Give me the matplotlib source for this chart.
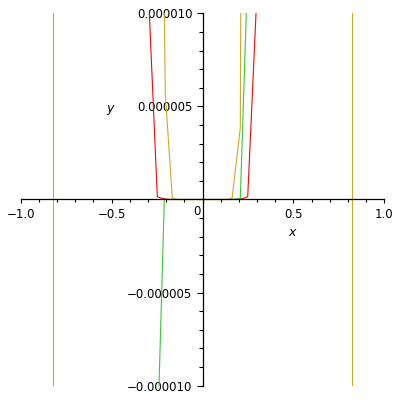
import numpy as np
import matplotlib
matplotlib.use("Agg")
import matplotlib.pyplot as plt
from matplotlib.ticker import MultipleLocator

# curves (x, y)
red_x = [-0.2926, -0.2486, -0.2211, -0.18, 0.19, 0.2244, 0.2486, 0.2943]
red_y = [1.0e-5, 0.15e-6, 0.05e-6, 0.0, 0.0, 0.05e-6, 0.15e-6, 1.0e-5]

green_x = [-0.2393, -0.2101, 0.15, 0.1859, 0.2079, 0.2409]
green_y = [-1.0e-5, 0.0, 0.0, 0.03e-6, 0.05e-6, 1.0e-5]

orange_x = [-0.2101, -0.2046, -0.1661, -0.13, 0.13, 0.1623, 0.2079, 0.2101]
orange_y = [1.0e-5, 5.67e-6, 0.05e-6, 0.0, 0.0, 0.05e-6, 3.84e-6, 1.0e-5]

vline_x = [-0.82, 0.82]

xtick_vals = [-1.0, -0.5, 0.5, 1.0]
xtick_labels = ["\u22121.0", "\u22120.5", "0.5", "1.0"]
ytick_vals = [-1.0e-5, -5.0e-6, 5.0e-6, 1.0e-5]
ytick_labels = ["\u22120.000010", "\u22120.000005", "0.000005", "0.000010"]

gold = "#DAA520"

fig = plt.figure(figsize=(4, 4), dpi=100)
ax = fig.add_axes([0.0518, 0.0358, 0.909, 0.931])

for xv in vline_x:
    ax.plot([xv, xv], [-1.0e-5, 1.0e-5], color=gold, lw=0.8, zorder=1)

ax.plot(red_x, red_y, color="#FF0000", lw=0.8, zorder=2)
ax.plot(orange_x, orange_y, color=gold, lw=0.8, zorder=2)
ax.plot(green_x, green_y, color="#33CC33", lw=0.8, zorder=2)

ax.set_xlim(-1, 1)
ax.set_ylim(-1.0e-5, 1.0e-5)

ax.spines["left"].set_position(("data", 0))
ax.spines["bottom"].set_position(("data", 0))
ax.spines["top"].set_visible(False)
ax.spines["right"].set_visible(False)
for s in ("left", "bottom"):
    ax.spines[s].set_linewidth(0.9)
    ax.spines[s].set_zorder(3)

ax.set_xticks(xtick_vals)
ax.set_xticklabels(xtick_labels)
ax.set_yticks(ytick_vals)
ax.set_yticklabels(ytick_labels)
ax.xaxis.set_minor_locator(MultipleLocator(0.1))
ax.yaxis.set_minor_locator(MultipleLocator(1.0e-6))

ax.tick_params(axis="x", which="major", direction="out", length=3.2, width=0.8,
               pad=3.0, labelsize=8.5)
ax.tick_params(axis="x", which="minor", direction="out", length=2.4, width=0.8)
ax.tick_params(axis="y", which="major", direction="out", length=4.3, width=0.8,
               pad=3.0, labelsize=8.5)
ax.tick_params(axis="y", which="minor", direction="out", length=2.7, width=0.8)

ax.text(-0.030, -0.67e-6, "0", fontsize=8.5, ha="center", va="center")
ax.text(0.492, -1.75e-6, "x", fontsize=9, style="italic", ha="center", va="center")
ax.text(-0.509, 4.91e-6, "y", fontsize=9, style="italic", ha="center", va="center")

fig.savefig("out.png", dpi=100)
